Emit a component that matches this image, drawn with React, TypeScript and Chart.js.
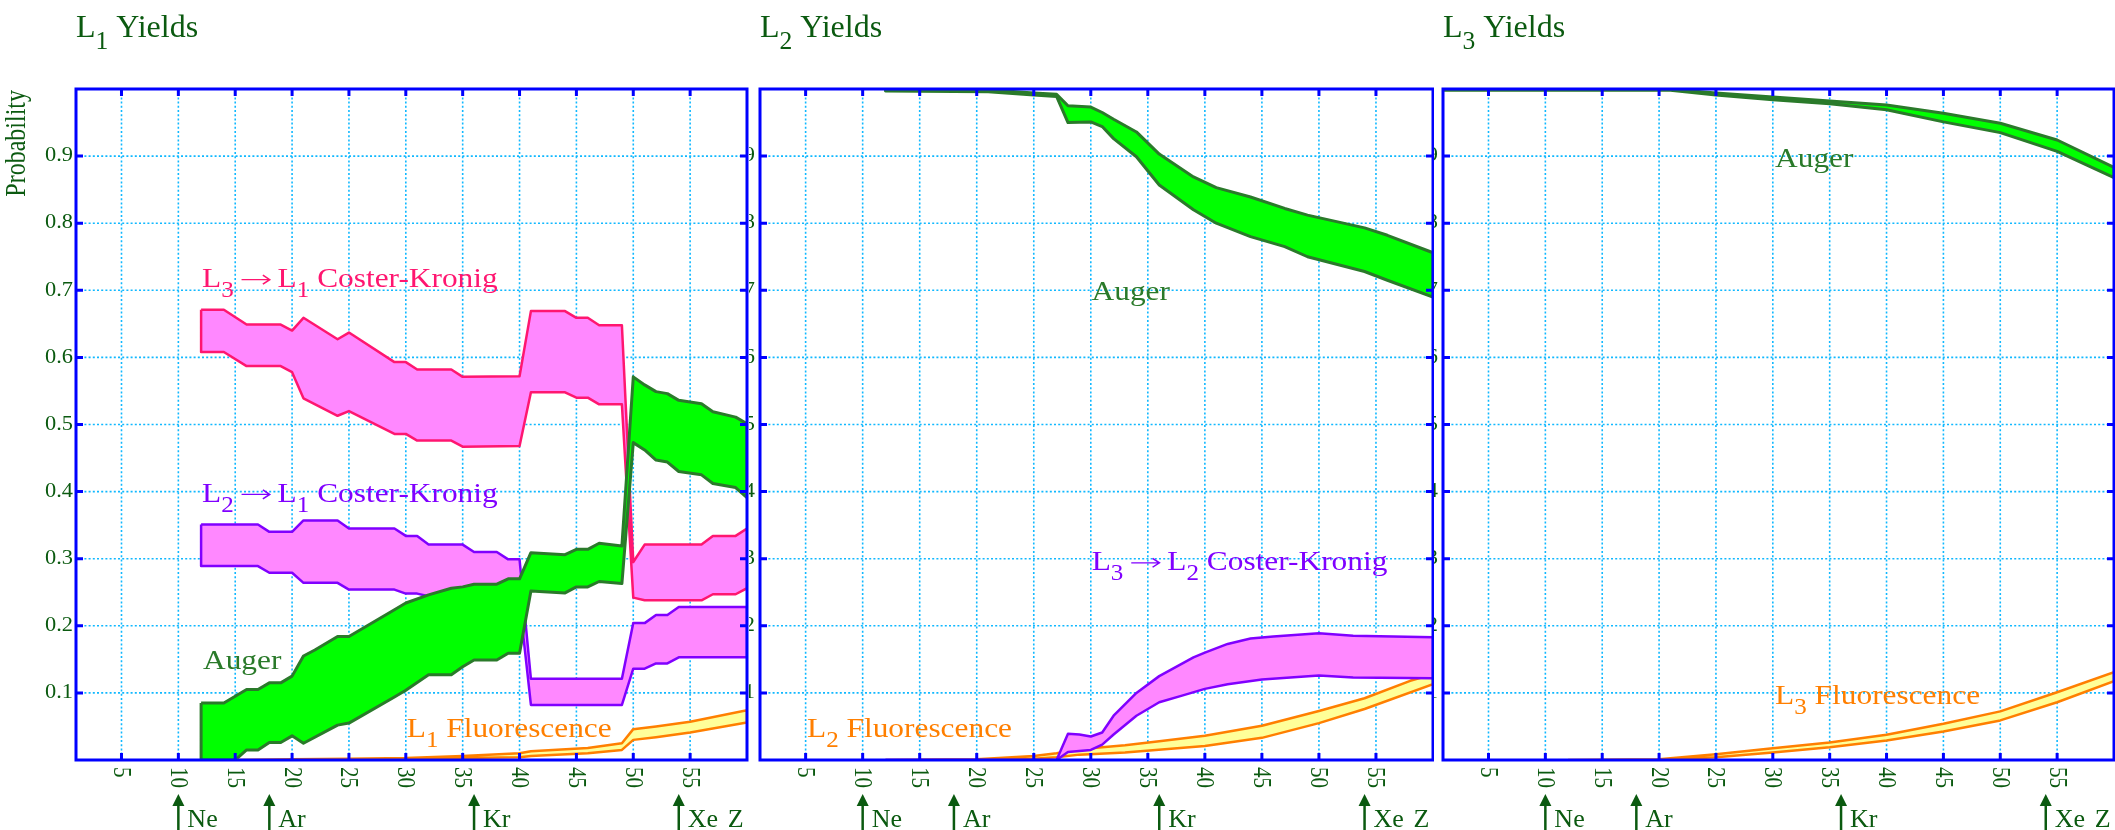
import React, { useEffect, useRef } from 'react';
import { Chart, registerables } from 'chart.js';

Chart.register(...registerables);

const FONT = '"Liberation Serif", "Times New Roman", "DejaVu Serif", serif';

// ---------- axes ----------
const X_MIN = 1;
const X_MAX = 60;
const xTickValues = [5, 10, 15, 20, 25, 30, 35, 40, 45, 50, 55];
const xTickLabels = ['5', '10', '15', '20', '25', '30', '35', '40', '45', '50', '55'];
const yTickValues = [0.1, 0.2, 0.3, 0.4, 0.5, 0.6, 0.7, 0.8, 0.9];
const yTickLabels = ['0.1', '0.2', '0.3', '0.4', '0.5', '0.6', '0.7', '0.8', '0.9'];
const elementZ = [10, 18, 36, 54];
const elementNames = ['Ne', 'Ar', 'Kr', 'Xe'];
const zLabelAt = 58.3;

// ---------- L1 panel ----------
const l1CK31Z = [12, 14, 16, 19, 20, 21, 24, 25, 29, 30, 31, 34, 35, 40, 41, 44, 45, 46, 47, 49, 50, 51, 56, 57, 59, 60];
const l1CK31Hi = [0.671, 0.671, 0.649, 0.649, 0.640, 0.659, 0.627, 0.637, 0.593, 0.593, 0.582, 0.582, 0.571, 0.572, 0.669, 0.669, 0.659, 0.659, 0.648, 0.648, 0.295, 0.321, 0.321, 0.334, 0.334, 0.345];
const l1CK31Lo = [0.608, 0.608, 0.587, 0.587, 0.578, 0.539, 0.513, 0.520, 0.486, 0.486, 0.476, 0.476, 0.467, 0.468, 0.548, 0.548, 0.540, 0.540, 0.530, 0.530, 0.242, 0.238, 0.238, 0.247, 0.247, 0.256];

const l1CK21Z = [12, 17, 18, 20, 21, 24, 25, 29, 30, 31, 32, 35, 36, 38, 39, 40, 41, 49, 50, 51, 52, 53, 54, 60];
const l1CK21Hi = [0.351, 0.351, 0.340, 0.340, 0.357, 0.357, 0.345, 0.345, 0.334, 0.334, 0.321, 0.321, 0.310, 0.310, 0.299, 0.299, 0.121, 0.121, 0.204, 0.204, 0.216, 0.216, 0.228, 0.228];
const l1CK21Lo = [0.289, 0.289, 0.279, 0.279, 0.264, 0.264, 0.254, 0.254, 0.248, 0.248, 0.244, 0.244, 0.240, 0.240, 0.236, 0.236, 0.082, 0.082, 0.136, 0.136, 0.144, 0.144, 0.153, 0.153];

const l1AugerZHi = [12, 14, 16, 17, 18, 19, 20, 21, 22, 24, 25, 29, 30, 32, 34, 35, 36, 38, 39, 40, 41, 44, 45, 46, 47, 49, 50, 51, 52, 53, 54, 56, 57, 59, 60];
const l1AugerHi = [0.085, 0.085, 0.105, 0.105, 0.115, 0.115, 0.125, 0.155, 0.164, 0.184, 0.184, 0.224, 0.234, 0.246, 0.256, 0.258, 0.262, 0.262, 0.270, 0.270, 0.309, 0.306, 0.314, 0.314, 0.323, 0.319, 0.571, 0.559, 0.549, 0.546, 0.536, 0.531, 0.519, 0.511, 0.501];
const l1AugerZLo = [12, 15, 16, 17, 18, 19, 20, 21, 24, 25, 29, 30, 32, 34, 35, 36, 38, 39, 40, 41, 44, 45, 46, 47, 49, 50, 51, 52, 53, 54, 56, 57, 59, 60];
const l1AugerLo = [0, 0, 0.015, 0.015, 0.026, 0.026, 0.036, 0.025, 0.052, 0.055, 0.094, 0.104, 0.127, 0.127, 0.139, 0.149, 0.149, 0.159, 0.159, 0.252, 0.249, 0.258, 0.258, 0.266, 0.263, 0.473, 0.462, 0.447, 0.444, 0.430, 0.425, 0.412, 0.406, 0.391];

const l1FluorZHi = [15, 20, 25, 30, 35, 40, 41, 46, 49, 50, 52, 55, 60];
const l1FluorHi = [0, 0.001, 0.002, 0.003, 0.006, 0.010, 0.013, 0.018, 0.025, 0.046, 0.050, 0.057, 0.074];
const l1FluorZLo = [15, 25, 35, 40, 41, 46, 49, 50, 52, 55, 60];
const l1FluorLo = [0, 0.001, 0.003, 0.004, 0.006, 0.010, 0.015, 0.030, 0.034, 0.041, 0.056];

// ---------- L2 panel ----------
const l2AugerZ = [12, 21, 25, 27, 28, 30, 31, 32, 34, 36, 39, 41, 44, 47, 49, 54, 56, 60];
const l2AugerHi = [1.0, 0.999, 0.994, 0.992, 0.975, 0.973, 0.965, 0.955, 0.936, 0.903, 0.869, 0.853, 0.839, 0.822, 0.812, 0.793, 0.782, 0.756];
const l2AugerLo = [0.997, 0.996, 0.991, 0.989, 0.950, 0.951, 0.944, 0.926, 0.899, 0.857, 0.820, 0.800, 0.780, 0.765, 0.750, 0.728, 0.715, 0.690];

const l2CKZHi = [12, 27, 28, 29, 30, 31, 32, 34, 36, 39, 40, 42, 44, 46, 50, 53, 60];
const l2CKHi = [0, 0, 0.039, 0.038, 0.035, 0.041, 0.066, 0.100, 0.125, 0.153, 0.160, 0.173, 0.181, 0.184, 0.189, 0.185, 0.183];
const l2CKZLo = [12, 27, 28, 30, 31, 32, 34, 36, 38, 40, 42, 45, 50, 53, 60];
const l2CKLo = [0, 0, 0.012, 0.015, 0.023, 0.038, 0.066, 0.086, 0.096, 0.106, 0.113, 0.120, 0.126, 0.123, 0.122];

const l2FluorZHi = [12, 20, 25, 27, 29, 33, 36, 40, 45, 50, 54, 58, 60];
const l2FluorHi = [0, 0.001, 0.006, 0.010, 0.016, 0.022, 0.028, 0.036, 0.051, 0.073, 0.092, 0.118, 0.128];
const l2FluorZLo = [12, 20, 25, 27, 29, 33, 40, 45, 50, 54, 60];
const l2FluorLo = [0, 0, 0.002, 0.004, 0.008, 0.011, 0.021, 0.033, 0.055, 0.076, 0.113];

// ---------- L3 panel ----------
const l3AugerZ = [1, 21, 25, 30, 35, 40, 45, 50, 55, 60];
const l3AugerHi = [1.0, 1.0, 0.994, 0.988, 0.982, 0.976, 0.964, 0.949, 0.924, 0.883];
const l3AugerLo = [0.998, 0.998, 0.991, 0.984, 0.978, 0.969, 0.951, 0.935, 0.907, 0.868];

const l3FluorZ = [12, 20, 25, 30, 35, 40, 45, 50, 55, 60];
const l3FluorHi = [0, 0.001, 0.0085, 0.0175, 0.026, 0.0375, 0.054, 0.0725, 0.101, 0.131];
const l3FluorLo = [0, 0, 0.004, 0.011, 0.019, 0.029, 0.0425, 0.059, 0.086, 0.1175];

// ---------- colours ----------
const DARK_GREEN = '#0b5a10';
const AUGER_LINE = '#2a7a2a';
const AUGER_FILL = '#00ff00';
const CK_FILL = '#ff88ff';
const CK_RED = '#ff1670';
const CK_VIOLET = '#8000ff';
const FL_LINE = '#ff7f00';
const FL_FILL = '#ffff99';
const AXIS_BLUE = '#0000ff';
const GRID = '#10b8ff';

const TOP = 89;
const BOTTOM = 70;
const H = 830;

type Seg = { t: string; sub?: boolean; arrow?: boolean };
type Band = { zHi: number[]; hi: number[]; zLo: number[]; lo: number[]; line: string; fill: string; width: number };
type Note = { segs: Seg[]; x: number; y: number; color: string };
type PanelSpec = {
  left: number; width: number; padL: number; padR: number;
  title: Seg[]; bands: Band[]; notes: Note[]; leftLabels: boolean; partialLeft: boolean; probability: boolean;
};

function bandDataset(b: Band) {
  const pts: { x: number; y: number }[] = b.zHi.map((z, i) => ({ x: z, y: b.hi[i] }));
  for (let i = b.zLo.length - 1; i >= 0; i--) pts.push({ x: b.zLo[i], y: b.lo[i] });
  pts.push({ x: b.zHi[0], y: b.hi[0] });
  return {
    data: pts,
    borderColor: b.line,
    backgroundColor: b.fill,
    borderWidth: b.width,
    fill: 'shape',
    pointRadius: 0,
    tension: 0,
    borderJoinStyle: 'round',
  } as any;
}

function drawRich(ctx: CanvasRenderingContext2D, segs: Seg[], x: number, y: number, size: number, color: string, sx = 1) {
  ctx.save();
  ctx.translate(x, y);
  ctx.scale(sx, 1);
  ctx.fillStyle = color;
  ctx.strokeStyle = color;
  ctx.textAlign = 'left';
  ctx.textBaseline = 'alphabetic';
  let cx = 0;
  for (const s of segs) {
    if (s.arrow) {
      const len = size * 0.9;
      const ay = -size * 0.26;
      ctx.lineWidth = size * 0.05;
      ctx.setLineDash([]);
      ctx.beginPath();
      ctx.moveTo(cx, ay);
      ctx.lineTo(cx + len, ay);
      ctx.moveTo(cx + len - size * 0.22, ay - size * 0.16);
      ctx.lineTo(cx + len, ay);
      ctx.lineTo(cx + len - size * 0.22, ay + size * 0.16);
      ctx.stroke();
      cx += len;
      continue;
    }
    const fs = s.sub ? size * 0.8 : size;
    ctx.font = `${fs}px ${FONT}`;
    ctx.fillText(s.t, cx, s.sub ? size * 0.36 : 0);
    cx += ctx.measureText(s.t).width;
  }
  ctx.restore();
}

function makeDecor(spec: PanelSpec) {
  return {
    id: 'panelDecor',
    beforeDatasetsDraw(chart: any) {
      const { ctx, chartArea: a, scales } = chart;
      const x = scales.x, y = scales.y;
      ctx.save();
      ctx.strokeStyle = GRID;
      ctx.lineWidth = 1.6;
      ctx.setLineDash([2, 2.2]);
      for (const v of xTickValues) {
        const px = x.getPixelForValue(v);
        ctx.beginPath(); ctx.moveTo(px, a.top); ctx.lineTo(px, a.bottom); ctx.stroke();
      }
      for (const v of yTickValues) {
        const py = y.getPixelForValue(v);
        ctx.beginPath(); ctx.moveTo(a.left, py); ctx.lineTo(a.right, py); ctx.stroke();
      }
      ctx.restore();
    },
    afterDatasetsDraw(chart: any) {
      const { ctx, chartArea: a, scales } = chart;
      const x = scales.x, y = scales.y;
      ctx.save();
      // notes
      for (const n of spec.notes) {
        drawRich(ctx, n.segs, x.getPixelForValue(n.x), y.getPixelForValue(n.y), 28, n.color, 1.12);
      }
      // border
      ctx.strokeStyle = AXIS_BLUE;
      ctx.lineWidth = 3;
      ctx.setLineDash([]);
      ctx.strokeRect(a.left, a.top, a.right - a.left, a.bottom - a.top);
      // tick marks
      ctx.lineWidth = 3;
      const tl = 7;
      for (const v of xTickValues) {
        const px = x.getPixelForValue(v);
        ctx.beginPath();
        ctx.moveTo(px, a.bottom); ctx.lineTo(px, a.bottom - tl);
        ctx.moveTo(px, a.top); ctx.lineTo(px, a.top + tl);
        ctx.stroke();
      }
      for (const v of yTickValues) {
        const py = y.getPixelForValue(v);
        ctx.beginPath();
        ctx.moveTo(a.left, py); ctx.lineTo(a.left + tl, py);
        ctx.moveTo(a.right, py); ctx.lineTo(a.right - tl, py);
        ctx.stroke();
      }
      // x tick labels (rotated clockwise)
      ctx.fillStyle = DARK_GREEN;
      ctx.font = `21px ${FONT}`;
      xTickValues.forEach((v, i) => {
        const px = x.getPixelForValue(v);
        ctx.save();
        ctx.translate(px, a.bottom + 7);
        ctx.rotate(Math.PI / 2);
        ctx.scale(1, 1.15);
        ctx.textAlign = 'left';
        ctx.textBaseline = 'middle';
        ctx.fillText(xTickLabels[i], 0, 1);
        ctx.restore();
      });
      // y tick labels
      if (spec.leftLabels || spec.partialLeft) {
        ctx.font = `20px ${FONT}`;
        ctx.textAlign = 'right';
        ctx.textBaseline = 'middle';
        yTickValues.forEach((v, i) => {
          const py = y.getPixelForValue(v);
          const rx = spec.leftLabels ? a.left - 3 : a.left - 5;
          ctx.save();
          ctx.translate(rx, py);
          ctx.scale(1.12, 1);
          ctx.fillText(yTickLabels[i], 0, 0);
          ctx.restore();
        });
      }
      // element arrows
      ctx.strokeStyle = DARK_GREEN;
      ctx.fillStyle = DARK_GREEN;
      elementZ.forEach((z, i) => {
        const px = x.getPixelForValue(z);
        ctx.lineWidth = 2.5;
        ctx.beginPath(); ctx.moveTo(px, 802); ctx.lineTo(px, H); ctx.stroke();
        ctx.beginPath();
        ctx.moveTo(px, 794); ctx.lineTo(px - 6, 806); ctx.lineTo(px + 6, 806); ctx.closePath();
        ctx.fill();
        drawRich(ctx, [{ t: elementNames[i] }], px + 9, 827, 26, DARK_GREEN, 1.0);
      });
      drawRich(ctx, [{ t: 'Z' }], x.getPixelForValue(zLabelAt), 827, 26, DARK_GREEN, 1.0);
      // title
      drawRich(ctx, spec.title, a.left, 37, 32, DARK_GREEN, 1.0);
      // y axis title
      if (spec.probability) {
        ctx.save();
        ctx.translate(17, 90);
        ctx.rotate(-Math.PI / 2);
        ctx.scale(1, 1.2);
        ctx.font = `24px ${FONT}`;
        ctx.textAlign = 'right';
        ctx.textBaseline = 'middle';
        ctx.fillStyle = DARK_GREEN;
        ctx.fillText('Probability', 0, 0);
        ctx.restore();
      }
      ctx.restore();
    },
  };
}

const ARROW: Seg = { t: '', arrow: true };

const panels: PanelSpec[] = [
  {
    left: 0, width: 749, padL: 76, padR: 2,
    title: [{ t: 'L' }, { t: '1', sub: true }, { t: ' Yields' }],
    bands: [
      { zHi: l1CK21Z, hi: l1CK21Hi, zLo: l1CK21Z, lo: l1CK21Lo, line: CK_VIOLET, fill: CK_FILL, width: 2.5 },
      { zHi: l1CK31Z, hi: l1CK31Hi, zLo: l1CK31Z, lo: l1CK31Lo, line: CK_RED, fill: CK_FILL, width: 2.5 },
      { zHi: l1AugerZHi, hi: l1AugerHi, zLo: l1AugerZLo, lo: l1AugerLo, line: AUGER_LINE, fill: AUGER_FILL, width: 3 },
      { zHi: l1FluorZHi, hi: l1FluorHi, zLo: l1FluorZLo, lo: l1FluorLo, line: FL_LINE, fill: FL_FILL, width: 2.5 },
    ],
    notes: [
      { segs: [{ t: 'L' }, { t: '3', sub: true }, { t: ' ' }, ARROW, { t: ' L' }, { t: '1', sub: true }, { t: ' Coster-Kronig' }], x: 12.08, y: 0.705, color: CK_RED },
      { segs: [{ t: 'L' }, { t: '2', sub: true }, { t: ' ' }, ARROW, { t: ' L' }, { t: '1', sub: true }, { t: ' Coster-Kronig' }], x: 12.08, y: 0.385, color: CK_VIOLET },
      { segs: [{ t: 'Auger' }], x: 12.17, y: 0.136, color: AUGER_LINE },
      { segs: [{ t: 'L' }, { t: '1', sub: true }, { t: ' Fluorescence' }], x: 30.08, y: 0.035, color: FL_LINE },
    ],
    leftLabels: true, partialLeft: false, probability: true,
  },
  {
    left: 749, width: 685, padL: 11, padR: 1,
    title: [{ t: 'L' }, { t: '2', sub: true }, { t: ' Yields' }],
    bands: [
      { zHi: l2AugerZ, hi: l2AugerHi, zLo: l2AugerZ, lo: l2AugerLo, line: AUGER_LINE, fill: AUGER_FILL, width: 3 },
      { zHi: l2FluorZHi, hi: l2FluorHi, zLo: l2FluorZLo, lo: l2FluorLo, line: FL_LINE, fill: FL_FILL, width: 2.5 },
      { zHi: l2CKZHi, hi: l2CKHi, zLo: l2CKZLo, lo: l2CKLo, line: CK_VIOLET, fill: CK_FILL, width: 2.5 },
    ],
    notes: [
      { segs: [{ t: 'Auger' }], x: 30.07, y: 0.686, color: AUGER_LINE },
      { segs: [{ t: 'L' }, { t: '3', sub: true }, { t: ' ' }, ARROW, { t: ' L' }, { t: '2', sub: true }, { t: ' Coster-Kronig' }], x: 30.08, y: 0.283, color: CK_VIOLET },
      { segs: [{ t: 'L' }, { t: '2', sub: true }, { t: ' Fluorescence' }], x: 5.12, y: 0.034, color: FL_LINE },
    ],
    leftLabels: false, partialLeft: true, probability: false,
  },
  {
    left: 1434, width: 681, padL: 9, padR: 1,
    title: [{ t: 'L' }, { t: '3', sub: true }, { t: ' Yields' }],
    bands: [
      { zHi: l3AugerZ, hi: l3AugerHi, zLo: l3AugerZ, lo: l3AugerLo, line: AUGER_LINE, fill: AUGER_FILL, width: 3 },
      { zHi: l3FluorZ, hi: l3FluorHi, zLo: l3FluorZ, lo: l3FluorLo, line: FL_LINE, fill: FL_FILL, width: 2.5 },
    ],
    notes: [
      { segs: [{ t: 'Auger' }], x: 30.2, y: 0.884, color: AUGER_LINE },
      { segs: [{ t: 'L' }, { t: '3', sub: true }, { t: ' Fluorescence' }], x: 30.2, y: 0.083, color: FL_LINE },
    ],
    leftLabels: false, partialLeft: true, probability: false,
  },
];

function Panel({ spec }: { spec: PanelSpec }) {
  const ref = useRef<HTMLCanvasElement>(null);
  useEffect(() => {
    // Chart.js paints dataset 0 last (on top); reverse so the first band in the list sits at the bottom.
    const datasets = spec.bands.map(bandDataset).reverse();
    const chart = new Chart(ref.current as HTMLCanvasElement, {
      type: 'line',
      data: { datasets },
      options: {
        responsive: false,
        animation: false,
        events: [],
        layout: { padding: { left: spec.padL, right: spec.padR, top: TOP, bottom: BOTTOM } },
        scales: {
          x: { type: 'linear', min: X_MIN, max: X_MAX, display: false },
          y: { type: 'linear', min: 0, max: 1, display: false },
        },
        plugins: { legend: { display: false }, tooltip: { enabled: false } },
        elements: { point: { radius: 0 }, line: { tension: 0 } },
      } as any,
      plugins: [makeDecor(spec)],
    });
    return () => chart.destroy();
  }, []);
  return (
    <canvas
      ref={ref}
      width={spec.width}
      height={H}
      style={{ position: 'absolute', left: spec.left, top: 0, width: spec.width, height: H }}
    />
  );
}

export default function App() {
  return (
    <div style={{ position: 'absolute', left: 0, top: 0, width: 2115, height: H, background: '#ffffff', overflow: 'hidden' }}>
      {panels.map((p, i) => (
        <Panel key={i} spec={p} />
      ))}
    </div>
  );
}
